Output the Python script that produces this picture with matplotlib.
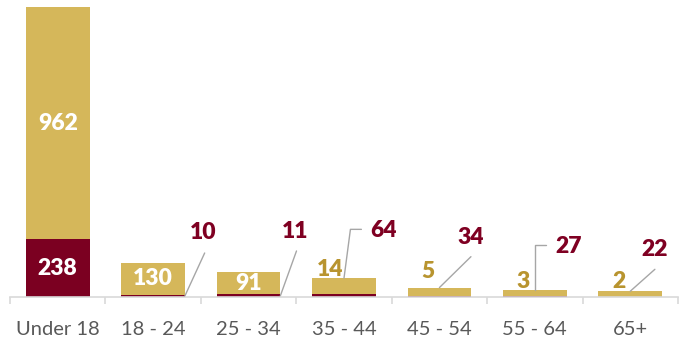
import numpy as np
import matplotlib.pyplot as plt

# Age groups and bar segment values
categories = ['Under 18', '18 - 24', '25 - 34', '35 - 44', '45 - 54', '55 - 64', '65+']
red_values = [238, 10, 11, 14, 5, 3, 2]
gold_values = [962, 130, 91, 64, 34, 27, 22]

# Label texts as printed on the chart
red_labels = ['238', '10', '11', '64', '34', '27', '22']
gold_labels = ['962', '130', '91', '14', '5', '3', '2']

RED = '#7B0021'
GOLD = '#D5B75A'
RED_TXT = '#7F0022'
GOLD_TXT = '#B8942F'
LEADER = '#A6A6A6'

plt.rcParams['font.family'] = ['Lato', 'DejaVu Sans']

fig = plt.figure(figsize=(6.87, 3.41), dpi=100)
ax = fig.add_axes([10 / 687, 44 / 341, 668 / 687, 290 / 341])

x = np.arange(len(categories))
w = 0.667
ax.bar(x, red_values, width=w, color=RED, zorder=2)
ax.bar(x, gold_values, width=w, bottom=red_values, color=GOLD, zorder=2)

ax.set_xlim(-0.5, len(categories) - 0.5)
ax.set_ylim(0, 1200)
ax.set_yticks([])
for s in ['top', 'right', 'left']:
    ax.spines[s].set_visible(False)
ax.spines['bottom'].set_color('#D9D9D9')
ax.spines['bottom'].set_linewidth(1.2)
ax.set_xticks(x)
ax.set_xticklabels(categories, fontsize=14.5, color='#595959')
ax.tick_params(axis='x', which='major', length=0, pad=17)
ax.set_xticks(np.arange(-0.5, len(categories)), minor=True)
ax.tick_params(axis='x', which='minor', length=5, width=1.2, color='#D9D9D9')

lab = dict(fontsize=16.5, fontweight='heavy', ha='center', va='center')

# inside labels for the first three groups
for i in range(3):
    ax.text(x[i], red_values[i] + gold_values[i] / 2, gold_labels[i], color='white', **lab)
ax.text(x[0], red_values[0] / 2, red_labels[0], color='white', **lab)

# leader-line labels: (anchor dx in bar widths, anchor on red middle?, line start, label pos, connection)
layout = {
    1: (w / 2, True, (19.7, 42.8), (18.7, 62.8), 'arc3'),
    2: (w / 2, True, (16.1, 44.7), (14.6, 64.0), 'arc3'),
    3: (0, False, (17.4, 48.8), (39.4, 48.1), 'angle,angleA=0,angleB=82.5,rad=0'),
    4: (0, False, (31.5, 30.9), (31.6, 49.6), 'arc3'),
    5: (0, False, (10.9, 44.7), (33.9, 43.0), 'angle,angleA=0,angleB=90,rad=0'),
    6: (0, False, (24.6, 21.9), (24.1, 41.2), 'arc3'),
}
for i, (dx, on_red, start, pos, conn) in layout.items():
    total = red_values[i] + gold_values[i]
    anchor = (x[i] + dx, red_values[i] / 2 if on_red else total)
    ax.annotate('', xy=anchor, xytext=start, textcoords='offset pixels',
                arrowprops=dict(arrowstyle='-', color=LEADER, lw=1,
                                shrinkA=0, shrinkB=0, connectionstyle=conn))
    ax.annotate(red_labels[i], xy=anchor, xytext=pos, textcoords='offset pixels',
                color=RED_TXT, **lab)

# small gold labels above bars
gold_offsets = {3: (-13.6, 9.1), 4: (-11.2, 15.9), 5: (-11.3, 8.7), 6: (-10.9, 10.2)}
for i, off in gold_offsets.items():
    total = red_values[i] + gold_values[i]
    ax.annotate(gold_labels[i], xy=(x[i], total), xytext=off, textcoords='offset pixels',
                color=GOLD_TXT, **lab)

fig.savefig('out.png', dpi=100)
